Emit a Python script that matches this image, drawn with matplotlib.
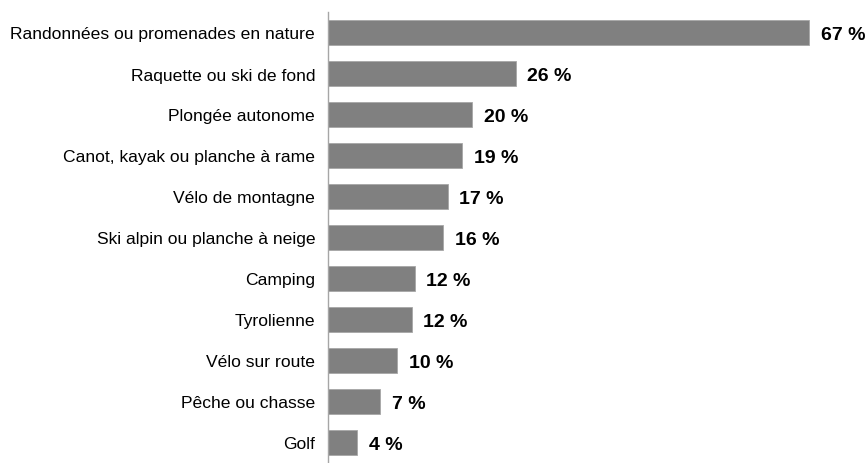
import matplotlib
matplotlib.use("Agg")
from matplotlib import pyplot as plt

# activities, top to bottom
activities = [
    "Randonnées ou promenades en nature",
    "Raquette ou ski de fond",
    "Plongée autonome",
    "Canot, kayak ou planche à rame",
    "Vélo de montagne",
    "Ski alpin ou planche à neige",
    "Camping",
    "Tyrolienne",
    "Vélo sur route",
    "Pêche ou chasse",
    "Golf",
]
# share of respondents (%)
shares = [67.0, 26.2, 20.1, 18.7, 16.7, 16.1, 12.1, 11.7, 9.7, 7.3, 4.1]
value_labels = ["67 %", "26 %", "20 %", "19 %", "17 %", "16 %",
                "12 %", "12 %", "10 %", "7 %", "4 %"]

plt.rcParams["font.family"] = ["Liberation Sans", "DejaVu Sans"]

fig = plt.figure(figsize=(8.66, 4.64), dpi=100)
ax = fig.add_axes([327.7 / 866, 0.0, 1 - 327.7 / 866, 1 - 13 / 464])

pos = list(range(len(activities)))
ax.barh(pos, shares, height=0.61, color="#808080", edgecolor="#a6a6a6", linewidth=0.6)

for p, v, lab in zip(pos, shares, value_labels):
    ax.text(v + 1.6, p + 0.06, lab, va="center", ha="left", fontsize=14,
            fontweight="bold", color="black", clip_on=False)

ax.set_ylim(len(activities) - 0.5, -0.5)
ax.set_xlim(0, 74.9)
ax.set_yticks(pos)
ax.set_yticklabels(activities, fontsize=12.6)
ax.tick_params(axis="y", length=0, pad=9)
ax.set_xticks([])

for side in ["top", "right", "bottom"]:
    ax.spines[side].set_visible(False)
ax.spines["left"].set_color("#a6a6a6")
ax.spines["left"].set_linewidth(1.0)

fig.savefig("out.png", dpi=100)
